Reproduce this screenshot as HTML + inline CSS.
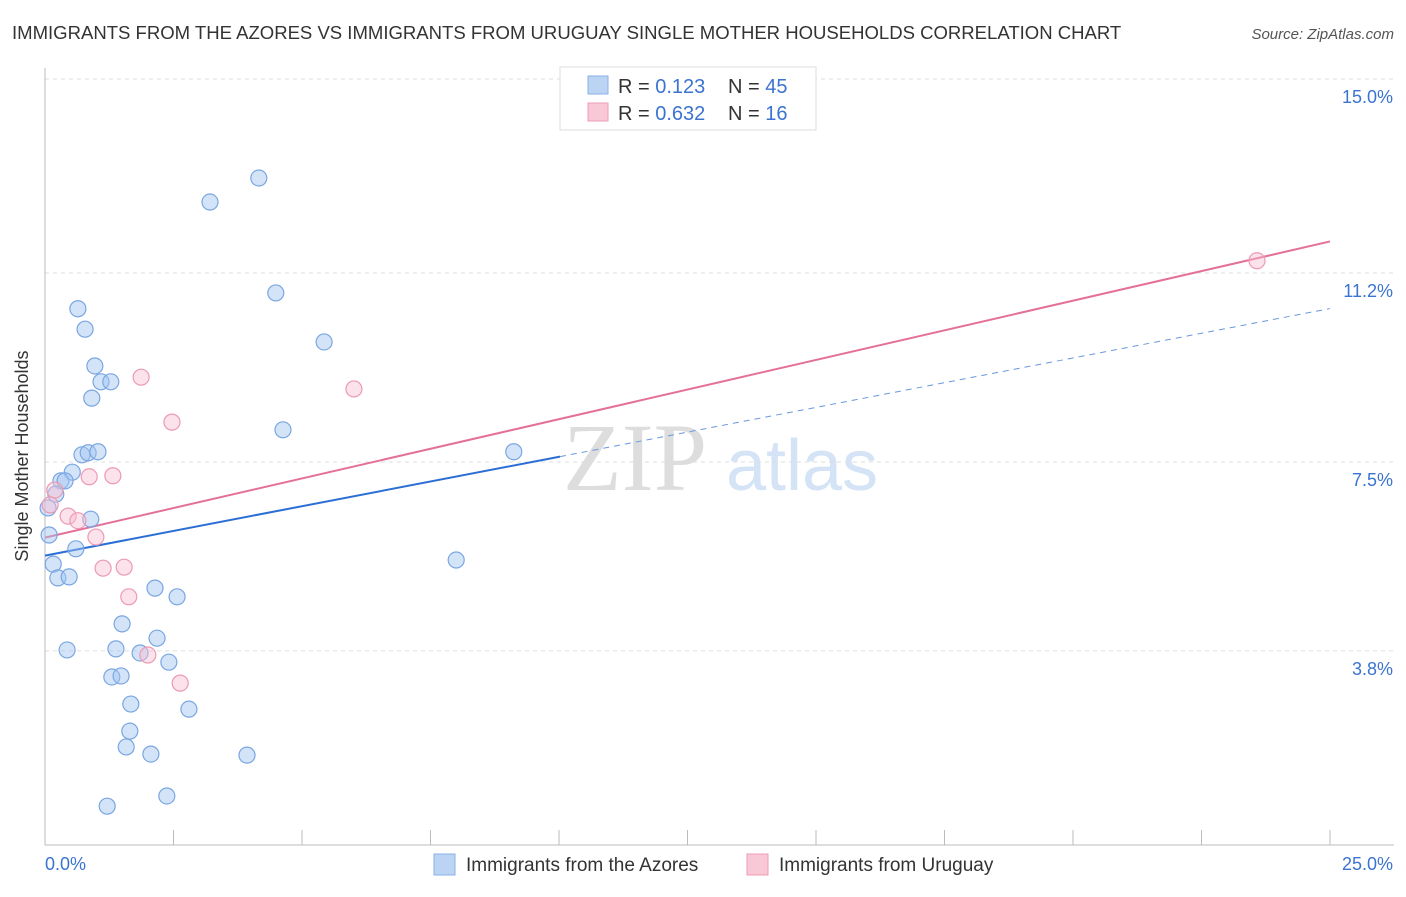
<!DOCTYPE html>
<html><head><meta charset="utf-8"><style>
body{margin:0;background:#fff;font-family:"Liberation Sans",sans-serif;}
</style></head><body>
<svg id="chart" width="1406" height="892" xmlns="http://www.w3.org/2000/svg" font-family="Liberation Sans, sans-serif">
<text x="12" y="39" font-size="18.55" fill="#333">IMMIGRANTS FROM THE AZORES VS IMMIGRANTS FROM URUGUAY SINGLE MOTHER HOUSEHOLDS CORRELATION CHART</text>
<text x="1394" y="39" font-size="15" fill="#555" font-style="italic" text-anchor="end">Source: ZipAtlas.com</text>
<text x="635" y="490" font-size="96" fill="#ddd" font-family="Liberation Serif, serif" text-anchor="middle">ZIP</text>
<text x="802" y="490" font-size="72" fill="#d4e3f5" text-anchor="middle">atlas</text>
<g id="grid"></g><g id="axes"></g><g id="lines"></g><g id="pts"></g>
<text x="28" y="456" font-size="18" fill="#333" text-anchor="middle" transform="rotate(-90 28 456)">Single Mother Households</text>
<g>
<rect x="560" y="67" width="256" height="63" fill="#fff" stroke="#ddd"/>
<rect x="588" y="76" width="20" height="18" fill="#bcd4f4" stroke="#8ab0e6"/>
<rect x="588" y="103" width="20" height="18" fill="#f9c8d6" stroke="#ee9db5"/>
<text x="618" y="93" font-size="20" fill="#333">R = <tspan fill="#3a74d0">0.123</tspan></text>
<text x="728" y="93" font-size="20" fill="#333">N = <tspan fill="#3a74d0">45</tspan></text>
<text x="618" y="120" font-size="20" fill="#333">R = <tspan fill="#3a74d0">0.632</tspan></text>
<text x="728" y="120" font-size="20" fill="#333">N = <tspan fill="#3a74d0">16</tspan></text>
</g>
<g>
<rect x="434" y="854" width="21" height="21" fill="#bcd4f4" stroke="#8ab0e6"/>
<text x="466" y="871" font-size="19" fill="#333">Immigrants from the Azores</text>
<rect x="747" y="854" width="21" height="21" fill="#f9c8d6" stroke="#ee9db5"/>
<text x="779" y="871" font-size="19" fill="#333">Immigrants from Uruguay</text>
</g>
</svg>
<script>
const blueX=[4.16,3.21,4.49,0.64,0.78,5.43,0.97,1.09,1.28,0.91,4.63,0.72,0.84,1.03,9.12,0.53,0.31,0.39,0.21,0.89,0.06,0.08,0.60,8.00,0.16,0.25,0.47,2.14,2.57,1.50,2.18,0.43,1.38,1.85,2.41,1.30,1.48,1.67,2.80,1.65,1.58,2.06,3.93,2.37,1.21];
const blueY=[13.06,12.59,10.81,10.50,10.10,9.85,9.38,9.07,9.07,8.75,8.13,7.64,7.68,7.70,7.70,7.30,7.13,7.13,6.87,6.38,6.60,6.07,5.80,5.58,5.50,5.23,5.25,5.03,4.86,4.33,4.05,3.82,3.84,3.76,3.58,3.29,3.31,2.76,2.66,2.23,1.92,1.78,1.76,0.96,0.76];
const pinkX=[23.58,1.87,6.01,2.47,1.32,0.86,0.19,0.10,0.45,0.64,0.99,1.13,1.54,1.63,2.00,2.63];
const pinkY=[11.44,9.16,8.93,8.28,7.23,7.21,6.95,6.66,6.44,6.35,6.03,5.42,5.44,4.86,3.72,3.17];
const yTicks=[15.0,11.2,7.5,3.8];
const yTickLabels=["15.0%","11.2%","7.5%","3.8%"];
const xEndLabels=["0.0%","25.0%"];
const NS="http://www.w3.org/2000/svg";
const sx=v=>45+v*51.4, sy=v=>845-v*51.07;
function mk(tag,attrs,parent){const e=document.createElementNS(NS,tag);for(const k in attrs)e.setAttribute(k,attrs[k]);document.getElementById(parent).appendChild(e);return e;}
yTicks.forEach((t,i)=>{
 const g=mk('line',{x1:45,x2:1394,y1:sy(t),y2:sy(t),stroke:'#ddd','stroke-dasharray':'4,4'},'grid');
 
 
 const l=mk('text',{x:1393,y:sy(t)+24,'font-size':18,fill:'#3a74d0','text-anchor':'end'},'axes');
 l.textContent=yTickLabels[i];
 
 
});
const ax=mk('line',{x1:45,x2:1394,y1:845,y2:845,stroke:'#bbb'},'axes');


const ay=mk('line',{x1:45,x2:45,y1:68,y2:845,stroke:'#bbb'},'axes');


for(let i=1;i<=10;i++){const tk=mk('line',{x1:sx(i*2.5),x2:sx(i*2.5),y1:830,y2:845,stroke:'#bbb'},'axes');
 
 }
const xl0=mk('text',{x:45,y:870,'font-size':18,fill:'#3a74d0'},'axes');xl0.textContent=xEndLabels[0];


const xl1=mk('text',{x:1393,y:870,'font-size':18,fill:'#3a74d0','text-anchor':'end'},'axes');xl1.textContent=xEndLabels[1];


function fit(X,Y){const n=X.length;let mx=0,my=0;for(let i=0;i<n;i++){mx+=X[i];my+=Y[i];}mx/=n;my/=n;let sxy=0,sxx=0;for(let i=0;i<n;i++){sxy+=(X[i]-mx)*(Y[i]-my);sxx+=(X[i]-mx)**2;}const b=sxy/sxx;return [my-b*mx,b];}
const [ba,bb]=fit(blueX,blueY), [pa,pb]=fit(pinkX,pinkY);
const bmax=Math.max(...blueX)+0.9;
let e=mk('line',{x1:sx(0),y1:sy(ba),x2:sx(bmax),y2:sy(ba+bb*bmax),stroke:'#2b6fd6','stroke-width':2},'lines');


e=mk('line',{x1:sx(bmax),y1:sy(ba+bb*bmax),x2:sx(25),y2:sy(ba+bb*25),stroke:'#6a98dc','stroke-width':1,'stroke-dasharray':'6,5'},'lines');


e=mk('line',{x1:sx(0),y1:sy(pa),x2:sx(25),y2:sy(pa+pb*25),stroke:'#e4709a','stroke-width':2},'lines');


blueX.forEach((x,i)=>{const c=mk('circle',{cx:sx(x),cy:sy(blueY[i]),r:8,fill:'rgba(160,195,240,0.45)',stroke:'#7aa6e2','stroke-width':1.2},'pts');
 
 });
pinkX.forEach((x,i)=>{const c=mk('circle',{cx:sx(x),cy:sy(pinkY[i]),r:8,fill:'rgba(248,190,208,0.45)',stroke:'#ec9ab4','stroke-width':1.2},'pts');
 
 });
</script>
</body></html>
